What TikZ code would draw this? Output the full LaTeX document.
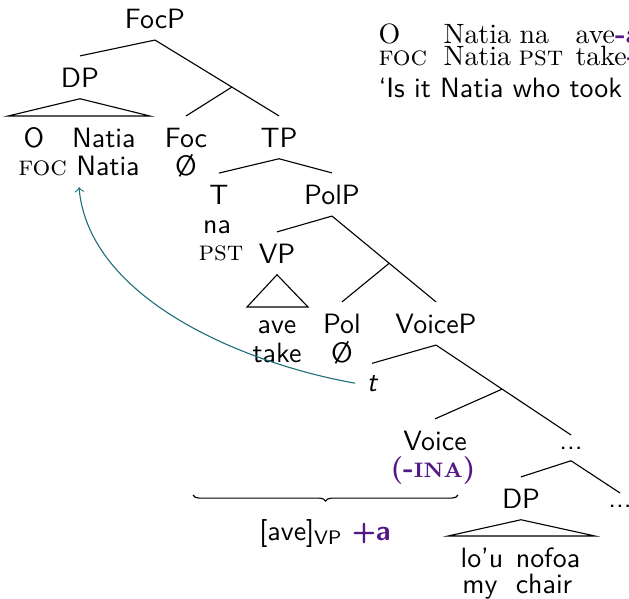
\documentclass[tikz,border=0pt]{standalone}
\usetikzlibrary{calc,decorations.pathreplacing}
\definecolor{glosspurple}{RGB}{84,24,132}
\definecolor{movecol}{RGB}{32,112,122}
\begin{document}
\begin{tikzpicture}[x=0.358pt,y=-0.358pt,
  lab/.style={font=\sffamily,inner sep=4pt,anchor=base},
  gl/.style={inner sep=0pt,anchor=base west},
  br/.style={decorate,decoration={brace,mirror,amplitude=2.2pt}}]
\useasboundingbox (0,0) rectangle (629,598);
\clip (0,0) rectangle (629,598);
%%% The example sentence at the top right
\node[gl] (glO) at (378,43) {O};
\node[gl] (glNatia) at (443,43) {Natia};
\node[gl] (glna) at (519,43) {na};
\node[gl] (glave) at (575,43) {ave\textcolor{glosspurple}{\textbf{-a}}};
\node[gl] (glfoc) at (378,65) {\textsc{foc}};
\node[gl] (glNatiaB) at (443,65) {Natia};
\node[gl] (glpst) at (518,65) {\textsc{pst}};
\node[gl] (gltake) at (575,65) {take\textcolor{glosspurple}{\textbf{-}}};
\node[gl,font=\sffamily] (trans) at (378,97) {`Is it Natia who took my chair?'};
%%% The tree: FocP and its DP
\node[lab] (FocP) at (155,28) {FocP};
\node[lab] (DPa) at (80,87) {DP};
\node[lab] (DPtop) at (79.5,147) {O\quad Natia};
\node[lab] (DPgl) at (79,175) {{\rmfamily\scshape foc} Natia};
\node[lab] (Foc) at (186,147) {Foc};
\node[lab] (FocNull) at (186,175) {\O};
\node[lab] (TP) at (279,147) {TP};
\coordinate (Fbar) at ($(FocP.south)!0.62!(TP.north)$);
\draw (FocP.south) -- (DPa.north);
\draw (FocP.south) -- (TP.north);
\draw (Fbar) -- (Foc.north);
\draw (DPa.south) -- (8,116) -- (150,116) -- cycle;
%%% TP and PolP
\node[lab] (T) at (219,204) {T};
\node[lab] (Tna) at (217,233) {na};
\node[lab,font=\rmfamily\scshape] (Tpst) at (221,260) {pst};
\node[lab] (PolP) at (332,204) {PolP};
\node[lab] (VP) at (277,263) {VP};
\node[lab] (VPave) at (277,333) {ave};
\node[lab] (VPtake) at (277,362) {take};
\node[lab] (Pol) at (342,333) {Pol};
\node[lab] (PolNull) at (342,362) {\O};
\node[lab] (VoiceP) at (436,333) {VoiceP};
\coordinate (Polbar) at ($(PolP.south)!0.55!(VoiceP.north)$);
\draw (TP.south) -- (T.north);
\draw (TP.south) -- (PolP.north);
\draw (PolP.south) -- (VP.north);
\draw (PolP.south) -- (VoiceP.north);
\draw (Polbar) -- (Pol.north);
\draw (VP.south) -- (247,307) -- (308,307) -- cycle;
%%% VoiceP down to the object
\node[lab] (trace) at (372,391) {\itshape t};
\node[lab] (dotsA) at (571,449) {...};
\node[lab] (Voice) at (435,450) {Voice};
\node[lab,font=\rmfamily\bfseries,text=glosspurple] (Ina) at (433,477) {(-{\fontsize{7.5}{9}\selectfont INA})};
\node[lab] (DPb) at (521,508) {DP};
\node[lab] (dotsB) at (620,507) {...};
\node[lab] (lou) at (482,567) {lo'u};
\node[lab] (nofoa) at (548,567) {nofoa};
\node[lab] (my) at (480,593) {my};
\node[lab] (chair) at (544,593) {chair};
\coordinate (Voicebar) at ($(VoiceP.south)!0.49!(dotsA.north)$);
\draw (VoiceP.south) -- (trace.north);
\draw (VoiceP.south) -- (dotsA.north);
\draw (Voicebar) -- (Voice.north);
\draw (dotsA.south) -- (DPb.north);
\draw (dotsA.south) -- (dotsB.north);
\draw (DPb.south) -- (448,536) -- (595,536) -- cycle;
%%% brace under the verb and Voice
\coordinate (brL) at (193,495);
\coordinate (brR) at (458,495);
\draw[br] (brL) -- (brR);
\node[lab] (VPplus) at (325,540) {[ave]$_{\mathsf{VP}}$ \textcolor{glosspurple}{\textbf{+a}}};
%%% movement of the focused DP
\draw[->,movecol] (trace.west) to[out=170,in=-85,looseness=0.85] (DPgl.south);
\end{tikzpicture}
\end{document}
